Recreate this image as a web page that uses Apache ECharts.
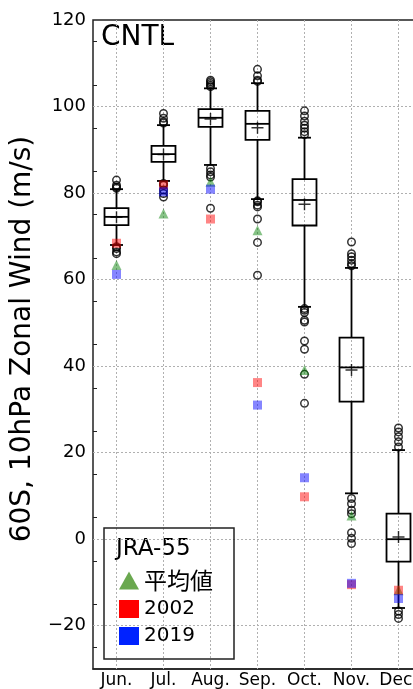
<!DOCTYPE html>
<html>
<head>
<meta charset="utf-8">
<script src="https://cdn.jsdelivr.net/npm/echarts@6/dist/echarts.min.js"></script>
<style>html,body{margin:0;padding:0;background:#fff;}#c{width:413px;height:689px;}</style>
</head>
<body>
<div id="c"></div>
<script>
const months = ['Jun.', 'Jul.', 'Aug.', 'Sep.', 'Oct.', 'Nov.', 'Dec.'];
const whiskerLow = [68.0, 82.8, 86.5, 78.6, 53.7, 10.6, -15.9];
const q1 = [72.6, 87.2, 95.3, 92.3, 72.5, 31.8, -5.2];
const median = [74.5, 89.0, 97.4, 96.0, 78.4, 39.7, 0.0];
const q3 = [76.5, 90.9, 99.4, 99.0, 83.2, 46.6, 5.9];
const whiskerHigh = [80.9, 95.7, 104.2, 105.4, 92.8, 62.7, 20.6];
const means = [74.4, 88.9, 97.1, 95.1, 77.4, 39.1, 0.5];
const outliers = [
  [83.0, 81.8, 81.4, 81.1, 67.6, 67.2, 66.4, 66.0],
  [98.4, 97.3, 96.5, 96.2, 82.2, 81.8, 80.7, 79.9, 79.1],
  [106.1, 105.7, 105.3, 104.9, 104.6, 85.7, 84.9, 84.2, 83.7, 76.5],
  [108.6, 107.1, 106.1, 105.8, 78.2, 78.0, 77.2, 76.8, 74.0, 68.6, 61.0],
  [99.0, 97.8, 96.6, 95.7, 95.0, 94.2, 93.5, 53.3, 52.9, 52.4, 50.6, 50.2, 45.8, 43.9, 38.1, 31.4],
  [68.7, 66.0, 65.3, 64.5, 63.7, 63.2, 9.4, 8.2, 6.7, 5.9, 1.5, 0.2, -1.0],
  [25.7, 24.8, 23.7, 22.5, 21.3, -16.6, -17.4, -18.3]
];
const jraMean = [63.4, 75.3, 82.6, 71.4, 39.1, 5.5, -11.8];
const y2002 = [68.4, 81.9, 74.0, 36.2, 9.8, -10.5, -11.8];
const y2019 = [61.2, 80.3, 80.9, 31.0, 14.2, -10.2, -13.7];
const yGridValues = [-20, 0, 20, 40, 60, 80, 100];

const boxData = months.map((m, i) => [i, whiskerLow[i], q1[i], median[i], q3[i], whiskerHigh[i]]);
const outlierData = [];
outliers.forEach((arr, i) => arr.forEach(v => outlierData.push([i, v])));
const meanData = means.map((v, i) => [i, v]);

const FONT = "'DejaVu Sans', 'Noto Sans CJK JP', sans-serif";
const CJK = "'Noto Sans CJK JP', 'DejaVu Sans', sans-serif";
const gridLineStyle = { color: '#b0b0b0', type: [2, 2], width: 1 };

const chart = echarts.init(document.getElementById('c'), null, { renderer: 'canvas' });
chart.setOption({
  animation: false,
  backgroundColor: '#fff',
  textStyle: { fontFamily: FONT },
  grid: {
    left: 93, top: 20, width: 329, height: 649,
    show: true, borderColor: '#222', borderWidth: 1.5,
    outerBoundsMode: 'none', containLabel: false
  },
  xAxis: {
    type: 'category', data: months, boundaryGap: true,
    axisLine: { onZero: false, lineStyle: { color: '#222', width: 1.5 } },
    axisTick: { alignWithLabel: true, inside: true, length: 5, lineStyle: { color: '#222', width: 1.2 } },
    axisLabel: { interval: 0, color: '#000', fontSize: 17, margin: 3, fontFamily: FONT },
    splitLine: { show: false }
  },
  yAxis: {
    type: 'value', min: -30, max: 120, interval: 10,
    name: '60S, 10hPa Zonal Wind (m/s)', nameLocation: 'middle', nameGap: 54,
    nameTextStyle: { color: '#000', fontSize: 28, fontFamily: FONT, padding: [0, 0, 0, 11] },
    axisLine: { lineStyle: { color: '#222', width: 1.5 } },
    axisTick: { inside: true, length: 5, lineStyle: { color: '#222', width: 1.2 } },
    minorTick: { show: true, splitNumber: 2, length: 4, lineStyle: { color: '#222', width: 1 } },
    axisLabel: {
      color: '#000', fontSize: 18, margin: 7, fontFamily: FONT,
      formatter: v => (v % 20 === 0 ? String(v).replace('-', '\u2212') : '')
    },
    splitLine: { show: false }
  },
  legend: {
    orient: 'vertical', left: 104, top: 528,
    padding: [41, 21, 13, 15],
    borderColor: '#222', borderWidth: 1.5, borderRadius: 0,
    itemWidth: 20, itemHeight: 18, itemGap: 7,
    formatter: name => (name === '平均値' ? '{cjk|' + name + '}' : name),
    textStyle: {
      color: '#000', fontSize: 20, lineHeight: 20, fontFamily: FONT,
      rich: { cjk: { fontSize: 23, lineHeight: 20, fontFamily: CJK, color: '#000' } }
    },
    data: [
      { name: '平均値', icon: 'triangle', itemStyle: { color: '#6aa84f', opacity: 1 } },
      { name: '2002', icon: 'rect', itemStyle: { color: '#ff0000', opacity: 1 } },
      { name: '2019', icon: 'rect', itemStyle: { color: '#0022ff', opacity: 1 } }
    ]
  },
  graphic: [
    { type: 'text', left: 101, top: 24, style: { text: 'CNTL', fontSize: 28, fill: '#000', fontFamily: FONT } },
    { type: 'text', left: 116, top: 538, style: { text: 'JRA-55', fontSize: 23, fill: '#000', fontFamily: FONT } }
  ],
  series: [
    {
      type: 'custom', name: 'box', z: 2,
      encode: { x: 0, y: [1, 2, 3, 4, 5] },
      data: boxData,
      renderItem: function (params, api) {
        const x = api.value(0);
        const lo = api.coord([x, api.value(1)]);
        const b1 = api.coord([x, api.value(2)]);
        const md = api.coord([x, api.value(3)]);
        const b3 = api.coord([x, api.value(4)]);
        const hi = api.coord([x, api.value(5)]);
        const cs = params.coordSys;
        const bw = api.size([1, 0])[0] * 0.51;
        const h = bw / 2, cap = 6.5, cx = lo[0];
        const st = { stroke: '#000', lineWidth: 1.8, fill: null };
        return {
          type: 'group',
          children: [
            { type: 'line', shape: { x1: cx, y1: cs.y, x2: cx, y2: cs.y + cs.height }, style: { stroke: '#b0b0b0', lineWidth: 1, lineDash: [2, 2] } },
            { type: 'rect', shape: { x: cx - h, y: b3[1], width: bw, height: b1[1] - b3[1] }, style: st },
            { type: 'line', shape: { x1: cx - h, y1: md[1], x2: cx + h, y2: md[1] }, style: st },
            { type: 'line', shape: { x1: cx, y1: b3[1], x2: cx, y2: hi[1] }, style: st },
            { type: 'line', shape: { x1: cx, y1: b1[1], x2: cx, y2: lo[1] }, style: st },
            { type: 'line', shape: { x1: cx - cap, y1: hi[1], x2: cx + cap, y2: hi[1] }, style: st },
            { type: 'line', shape: { x1: cx - cap, y1: lo[1], x2: cx + cap, y2: lo[1] }, style: st }
          ]
        };
      },
      markLine: {
        silent: true, symbol: 'none', z: 1, animation: false,
        label: { show: false },
        lineStyle: gridLineStyle,
        data: yGridValues.map(v => ({ yAxis: v }))
      }
    },
    {
      type: 'scatter', name: 'outliers', z: 3,
      symbol: 'circle', symbolSize: 7.5,
      itemStyle: { color: 'rgba(255,255,255,0)', borderColor: '#000', borderWidth: 1.5 },
      data: outlierData
    },
    {
      type: 'scatter', name: 'mean', z: 4,
      symbol: 'path://M4.4,0H5.6V4.4H10V5.6H5.6V10H4.4V5.6H0V4.4H4.4Z', symbolSize: 12,
      itemStyle: { color: '#000' },
      data: meanData
    },
    {
      type: 'scatter', name: '平均値', z: 5,
      symbol: 'triangle', symbolSize: 10,
      itemStyle: { color: 'rgba(0,128,0,0.6)' },
      data: jraMean.map((v, i) => [i, v])
    },
    {
      type: 'scatter', name: '2002', z: 5,
      symbol: 'rect', symbolSize: 9,
      itemStyle: { color: 'rgba(255,0,0,0.6)' },
      data: y2002.map((v, i) => [i, v])
    },
    {
      type: 'scatter', name: '2019', z: 6,
      symbol: 'rect', symbolSize: 9,
      itemStyle: { color: 'rgba(0,0,255,0.6)' },
      data: y2019.map((v, i) => [i, v])
    }
  ]
});
</script>
</body>
</html>
